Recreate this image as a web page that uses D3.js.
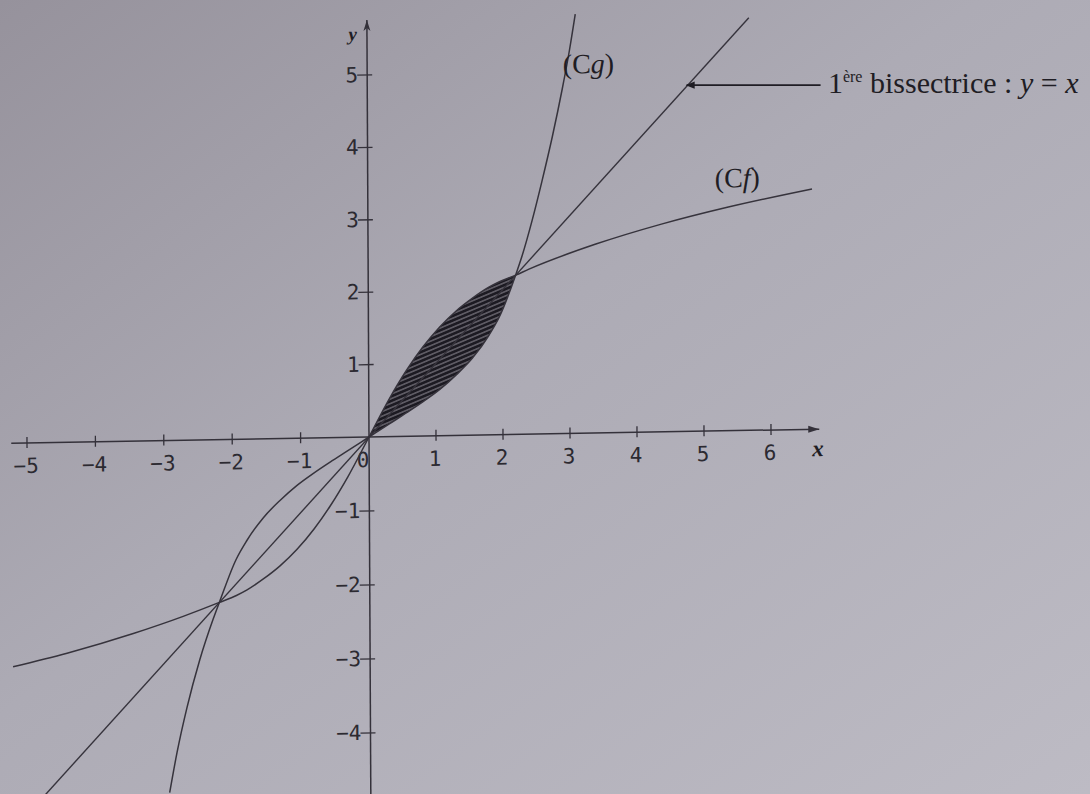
<!DOCTYPE html>
<html>
<head>
<meta charset="utf-8">
<script src="https://cdn.jsdelivr.net/npm/d3@7"></script>
<style>
  html, body { margin: 0; padding: 0; background: #aeacb6; }
  svg { display: block; }
  .tick-label { font-family: "DejaVu Sans Mono", monospace; font-size: 21px; fill: #2c2a31; }
  .note { font-family: "Liberation Serif", "Times New Roman", serif; fill: #1f1d24; }
</style>
</head>
<body>
<svg id="plane" width="1090" height="794"></svg>
<script>
/*--- True Constants ---*/
const svg = d3.select("#plane");
const W = 1090, H = 794;

// tick values on both axes
const tickX = [-5, -4, -3, -2, -1, 1, 2, 3, 4, 5, 6];
const tickY = [-4, -3, -2, -1, 1, 2, 3, 4, 5];

// (Cf)
const cfX = [-5.22, -4.43, -3.46, -2.73, -2.2, -1.95, -1.80, -1.55, -1.31, -1.06, -0.81, -0.57, -0.31, 0,
             0.31, 0.57, 0.81, 1.06, 1.31, 1.55, 1.80, 1.95, 2.2, 2.4, 3.4, 4.38, 5.38, 6.63];
const cfY = [-3.02, -2.85, -2.60, -2.38, -2.2, -2.11, -2.04, -1.89, -1.72, -1.50, -1.23, -0.92, -0.53, 0,
             0.53, 0.92, 1.23, 1.50, 1.72, 1.89, 2.04, 2.11, 2.2, 2.28, 2.61, 2.87, 3.09, 3.32];

// (Cg)
const cgX = [-2.94, -2.83, -2.68, -2.49, -2.29, -2.2, -1.95, -1.80, -1.55, -1.31, -1.06, -0.81, -0.57, -0.31, 0,
             0.31, 0.57, 0.81, 1.06, 1.31, 1.55, 1.80, 1.95, 2.2, 2.30, 2.45, 2.60, 2.76, 2.91, 3.02, 3.11];
const cgY = [-4.76, -4.22, -3.61, -2.97, -2.42, -2.2, -1.62, -1.38, -1.065, -0.84, -0.64, -0.475, -0.33, -0.18, 0,
             0.18, 0.33, 0.475, 0.64, 0.84, 1.065, 1.38, 1.62, 2.2, 2.47, 2.95, 3.49, 4.11, 4.76, 5.29, 5.79];

// 1ere bissectrice y = x, drawn between these x
const bisX = [-4.9, 5.7];

// shaded part between the two curves
const lensFrom = 0, lensTo = 2.2;

/*--- Scales ---*/
// the photo is a bit stretched, so each half of an axis has its own unit
const xScale = d3.scaleLinear().domain([-5, 0, 6]).range([27, 369, 771]);
const yScale = d3.scaleLinear().domain([-4, 0, 5]).range([733, 437, 75]);
const ox = xScale(0), oy = yScale(0);

/*--- Helpers ---*/
const toPts = (xs, ys) => xs.map((v, i) => ({x: v, y: ys[i]}));
const line = d3.line().x(d => xScale(d.x)).y(d => yScale(d.y)).curve(d3.curveMonotoneX);
const minus = d => d < 0 ? "\u2212" + Math.abs(d) : d;

/*--- Main ---*/
const defs = svg.append("defs");

const bg = defs.append("linearGradient").attr("id", "paper")
    .attr("x1", 0).attr("y1", 0).attr("x2", 1).attr("y2", 1);
bg.append("stop").attr("offset", "0%").attr("stop-color", "#96929c");
bg.append("stop").attr("offset", "45%").attr("stop-color", "#adabb5");
bg.append("stop").attr("offset", "100%").attr("stop-color", "#bdbbc4");

const hatch = defs.append("pattern").attr("id", "hatch")
    .attr("patternUnits", "userSpaceOnUse")
    .attr("width", 4.2).attr("height", 4.2)
    .attr("patternTransform", "rotate(-22)");
hatch.append("rect").attr("width", 4.2).attr("height", 4.2).attr("fill", "#6b6871");
hatch.append("path").attr("d", "M0,2.1H4.2")
    .attr("stroke", "#1c1a22").attr("stroke-width", 2.8);

defs.append("marker").attr("id", "head")
    .attr("viewBox", "0 0 10 10").attr("refX", 9).attr("refY", 5)
    .attr("markerWidth", 15).attr("markerHeight", 9)
    .attr("markerUnits", "userSpaceOnUse")
    .attr("orient", "auto")
  .append("path").attr("d", "M0,1L10,5L0,9Z").attr("fill", "#1f1d24");

svg.append("rect").attr("width", W).attr("height", H).attr("fill", "url(#paper)");

// whole figure is a little tilted in the photo
const g = svg.append("g")
    .attr("transform", `translate(${ox},${oy}) skewY(-1) skewX(0.29) translate(${-ox},${-oy})`);

// hatched area
const cfPts = toPts(cfX, cfY);
const cgPts = toPts(cgX, cgY);
const cgByX = new Map(cgPts.map(d => [d.x, d.y]));
const lens = cfPts.filter(d => d.x >= lensFrom && d.x <= lensTo)
    .map(d => ({x: d.x, top: d.y, bottom: cgByX.get(d.x)}));

g.append("path")
    .datum(lens)
    .attr("d", d3.area().x(d => xScale(d.x)).y0(d => yScale(d.bottom)).y1(d => yScale(d.top))
        .curve(d3.curveMonotoneX))
    .attr("fill", "url(#hatch)");

// axes
const ink = "#34313a";
g.append("line")
    .attr("x1", xScale(-5.23)).attr("x2", xScale(6.72))
    .attr("y1", oy).attr("y2", oy)
    .attr("stroke", ink).attr("stroke-width", 1.5);
g.append("path")
    .attr("d", `M${xScale(6.72)},${oy}l-11,-3.5l0,7z`).attr("fill", ink);

g.append("line")
    .attr("x1", ox).attr("x2", ox)
    .attr("y1", yScale(-5.2)).attr("y2", yScale(5.76))
    .attr("stroke", ink).attr("stroke-width", 1.5);
g.append("path")
    .attr("d", `M${ox},${yScale(5.76)}l-3.5,11l3.5,-3l3.5,3z`).attr("fill", ink);

g.selectAll("line.xt").data(tickX).join("line").attr("class", "xt")
    .attr("x1", d => xScale(d)).attr("x2", d => xScale(d))
    .attr("y1", oy - 6).attr("y2", oy + 5)
    .attr("stroke", ink).attr("stroke-width", 1.3);
g.selectAll("text.xl").data(tickX).join("text").attr("class", "xl tick-label")
    .attr("x", d => xScale(d) - 1).attr("y", oy + 30)
    .attr("text-anchor", "middle")
    .text(minus);

g.selectAll("line.yt").data(tickY).join("line").attr("class", "yt")
    .attr("x1", ox - 10).attr("x2", ox + 5)
    .attr("y1", d => yScale(d)).attr("y2", d => yScale(d))
    .attr("stroke", ink).attr("stroke-width", 1.3);
g.selectAll("text.yl").data(tickY).join("text").attr("class", "yl tick-label")
    .attr("x", ox - 9).attr("y", d => yScale(d) + 7)
    .attr("text-anchor", "end")
    .text(minus);

g.append("text").attr("class", "tick-label")
    .attr("x", ox - 6).attr("y", oy + 30).attr("text-anchor", "middle").text("0");

g.append("text").attr("class", "note")
    .attr("x", ox - 10).attr("y", yScale(5.48))
    .attr("text-anchor", "end")
    .style("font-size", "19px").style("font-style", "italic").style("font-weight", "bold")
    .text("y");
g.append("text").attr("class", "note")
    .attr("x", xScale(6.7)).attr("y", oy + 27)
    .attr("text-anchor", "middle")
    .style("font-size", "23px").style("font-style", "italic").style("font-weight", "bold")
    .text("x");

// curves
const curve = "#36333c";
g.append("path").datum(cfPts).attr("d", line)
    .attr("fill", "none").attr("stroke", curve).attr("stroke-width", 1.5);
g.append("path").datum(cgPts).attr("d", line)
    .attr("fill", "none").attr("stroke", curve).attr("stroke-width", 1.5);
g.append("path").datum(bisX.map(v => ({x: v, y: v}))).attr("d", line)
    .attr("fill", "none").attr("stroke", curve).attr("stroke-width", 1.4);

// curve names
const cg = g.append("text").attr("class", "note")
    .attr("x", xScale(2.92)).attr("y", yScale(4.97)).style("font-size", "28px");
cg.append("tspan").text("(C");
cg.append("tspan").style("font-style", "italic").text("g");
cg.append("tspan").text(")");

const cf = g.append("text").attr("class", "note")
    .attr("x", xScale(5.18)).attr("y", yScale(3.36)).style("font-size", "28px");
cf.append("tspan").text("(C");
cf.append("tspan").style("font-style", "italic").text("f");
cf.append("tspan").text(")");

// pointer to the bisectrice, kept level
const ay = yScale(4.86);
svg.append("line")
    .attr("x1", xScale(6.74)).attr("x2", xScale(4.74))
    .attr("y1", ay).attr("y2", ay)
    .attr("stroke", "#1f1d24").attr("stroke-width", 1.8)
    .attr("marker-end", "url(#head)");

const lab = svg.append("text").attr("class", "note")
    .attr("x", xScale(6.85)).attr("y", ay + 8)
    .style("font-size", "30px");
lab.append("tspan").text("1");
lab.append("tspan").attr("dy", -11).style("font-size", "16px").text("\u00e8re");
lab.append("tspan").attr("dy", 11).text(" bissectrice : ");
lab.append("tspan").style("font-style", "italic").text("y");
lab.append("tspan").text(" = ");
lab.append("tspan").style("font-style", "italic").text("x");
</script>
</body>
</html>
